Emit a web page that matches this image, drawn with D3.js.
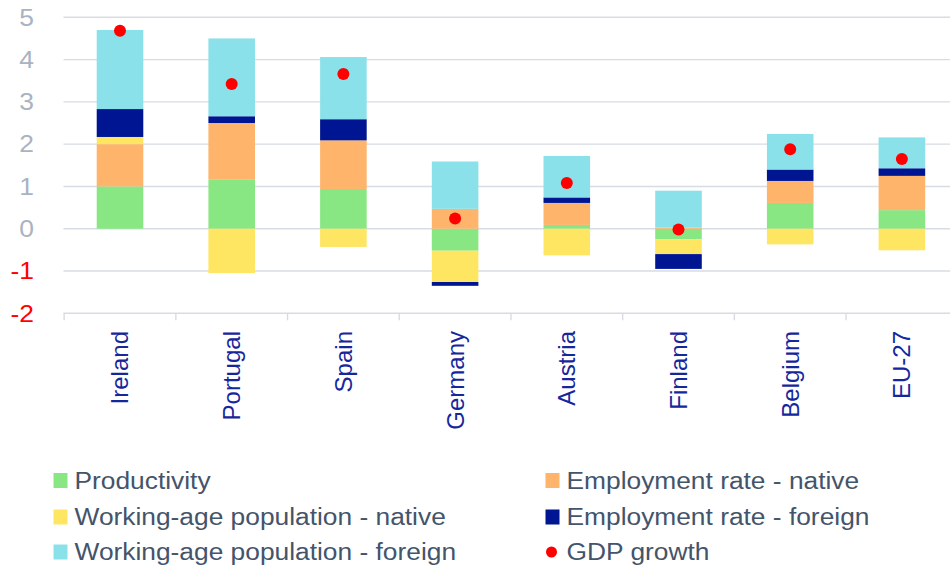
<!DOCTYPE html>
<html>
<head>
<meta charset="utf-8">
<script src="https://cdn.jsdelivr.net/npm/d3@7"></script>
<style>
  html, body { margin: 0; padding: 0; background: #ffffff; }
  svg { display: block; font-family: "Liberation Sans", Arial, sans-serif; }
</style>
</head>
<body>
<svg id="chart" width="950" height="566"></svg>
<script>
const categories = ["Ireland", "Portugal", "Spain", "Germany", "Austria", "Finland", "Belgium", "EU-27"];
const productivity = [1.00, 1.17, 0.94, -0.52, 0.09, -0.25, 0.61, 0.44];
const empNative    = [1.00, 1.33, 1.15, 0.47, 0.52, 0.03, 0.52, 0.81];
const wapNative    = [0.17, -1.05, -0.43, -0.74, -0.63, -0.35, -0.37, -0.51];
const empForeign   = [0.66, 0.16, 0.50, -0.09, 0.13, -0.35, 0.27, 0.18];
const wapForeign   = [1.87, 1.84, 1.47, 1.12, 0.98, 0.87, 0.84, 0.73];
const gdpGrowth    = [4.68, 3.42, 3.66, 0.24, 1.08, -0.02, 1.88, 1.65];
const yTicks = [-2, -1, 0, 1, 2, 3, 4, 5];

const seriesKeys = ["productivity", "empNative", "wapNative", "empForeign", "wapForeign"];
const seriesNames = {
  productivity: "Productivity",
  empNative: "Employment rate - native",
  wapNative: "Working-age population - native",
  empForeign: "Employment rate - foreign",
  wapForeign: "Working-age population - foreign"
};
const colors = {
  productivity: "#89e783",
  empNative: "#feb46b",
  wapNative: "#fee562",
  empForeign: "#001591",
  wapForeign: "#8be1e9"
};

const table = categories.map((c, i) => ({
  category: c,
  productivity: productivity[i],
  empNative: empNative[i],
  wapNative: wapNative[i],
  empForeign: empForeign[i],
  wapForeign: wapForeign[i],
  gdp: gdpGrowth[i]
}));

const svg = d3.select("#chart");

const x = d3.scaleBand().domain(categories).range([64.15, 957.75]).padding(0);
const y = d3.scaleLinear().domain([-2, 5]).range([313.3, 17.3]);
const barW = x.bandwidth() * 0.417;

// gridlines
svg.append("g").selectAll("line").data(yTicks).join("line")
  .attr("x1", 63.5).attr("x2", 950)
  .attr("y1", d => y(d)).attr("y2", d => y(d))
  .attr("stroke", "#d7dce2").attr("stroke-width", 1.4);

// y tick labels
svg.append("g").selectAll("text").data(yTicks).join("text")
  .attr("x", 34).attr("y", d => y(d))
  .attr("dy", "0.36em")
  .attr("text-anchor", "end")
  .attr("font-size", 23)
  .attr("fill", d => d < 0 ? "#ff0000" : "#a9b3c1")
  .attr("transform", `translate(34,0) scale(1.15,1) translate(-34,0)`)
  .text(d => d);

// category ticks
const boundaries = categories.map(c => x(c)).concat([x(categories[categories.length - 1]) + x.bandwidth()]);
svg.append("g").selectAll("line").data(boundaries).join("line")
  .attr("x1", d => d).attr("x2", d => d)
  .attr("y1", y(-2)).attr("y2", y(-2) + 7)
  .attr("stroke", "#d7dce2").attr("stroke-width", 1.4);

// stacked bars
const stack = d3.stack().keys(seriesKeys).offset(d3.stackOffsetDiverging);
const stacked = stack(table);

svg.append("g").selectAll("g").data(stacked).join("g")
  .attr("fill", d => colors[d.key])
  .selectAll("rect").data(d => d).join("rect")
  .attr("x", d => x(d.data.category) + x.bandwidth() / 2 - barW / 2)
  .attr("width", barW)
  .attr("y", d => y(Math.max(d[0], d[1])))
  .attr("height", d => Math.abs(y(d[0]) - y(d[1])));

// GDP dots
svg.append("g").selectAll("circle").data(table).join("circle")
  .attr("cx", d => x(d.category) + x.bandwidth() / 2)
  .attr("cy", d => y(d.gdp))
  .attr("r", 6)
  .attr("fill", "#ff0000");

// category labels
svg.append("g").selectAll("text").data(categories).join("text")
  .attr("transform", d => `translate(${x(d) + x.bandwidth() / 2},331) rotate(-90)`)
  .attr("dy", "0.35em")
  .attr("text-anchor", "end")
  .attr("font-size", 24)
  .attr("fill", "#16279c")
  .text(d => d);

// legend
const legendItems = [
  { key: "productivity", type: "rect", col: 0, row: 0 },
  { key: "empNative", type: "rect", col: 1, row: 0 },
  { key: "wapNative", type: "rect", col: 0, row: 1 },
  { key: "empForeign", type: "rect", col: 1, row: 1 },
  { key: "wapForeign", type: "rect", col: 0, row: 2 },
  { key: "gdp", type: "dot", col: 1, row: 2 }
];
const colX = [53.5, 545.5];
const rowY = [480.5, 517, 552];
const lg = svg.append("g");
legendItems.forEach(it => {
  const gx = colX[it.col], gy = rowY[it.row];
  if (it.type === "rect") {
    lg.append("rect").attr("x", gx).attr("y", gy - 7.5).attr("width", 14).attr("height", 15)
      .attr("fill", colors[it.key]);
  } else {
    lg.append("circle").attr("cx", gx + 6).attr("cy", gy).attr("r", 5.5).attr("fill", "#ff0000");
  }
  const tx = gx + 21;
  lg.append("text")
    .attr("transform", `translate(${tx},${gy}) scale(1.145,1)`)
    .attr("dy", "0.36em")
    .attr("font-size", 23)
    .attr("fill", "#44546a")
    .text(it.key === "gdp" ? "GDP growth" : seriesNames[it.key]);
});
</script>
</body>
</html>
